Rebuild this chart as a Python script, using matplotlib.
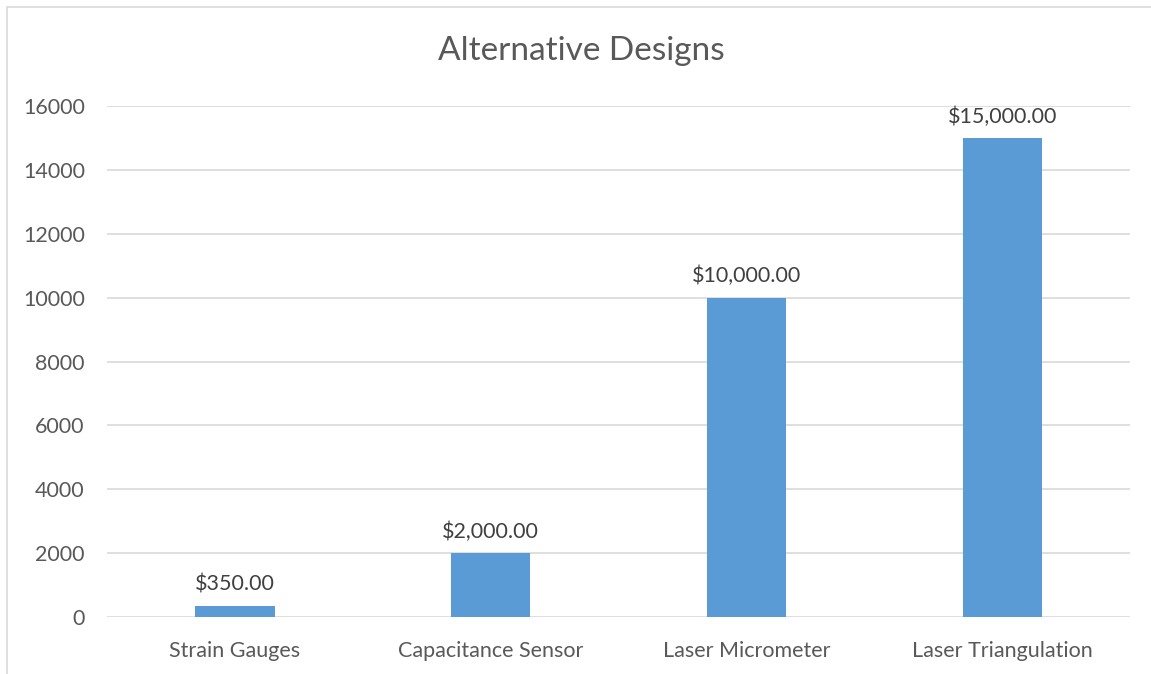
import matplotlib.pyplot as plt
from matplotlib.patches import Rectangle

categories = ['Strain Gauges', 'Capacitance Sensor', 'Laser Micrometer', 'Laser Triangulation']
costs = [350, 2000, 10000, 15000]
yticks = [0, 2000, 4000, 6000, 8000, 10000, 12000, 14000, 16000]

plt.rcParams['font.family'] = ['Lato', 'DejaVu Sans']

fig = plt.figure(figsize=(11.51, 6.74), dpi=100)
ax = fig.add_axes([0.093, 0.0846, 0.889, 0.758])

# chart frame (left and top edges visible)
fig.patches.append(Rectangle((7 / 1151, -0.1), 1.2, 1 - 7 / 674 + 0.1,
                             transform=fig.transFigure, fill=False,
                             edgecolor='#D9D9D9', linewidth=1.2))

x = range(len(categories))
ax.bar(x, costs, width=0.31, color='#5B9BD5', zorder=3)

for xi, v in zip(x, costs):
    ax.annotate(f'${v:,.2f}', (xi, v), xytext=(0, 8), textcoords='offset points',
                ha='center', va='bottom', fontsize=15.5, color='#404040')

ax.set_xlim(-0.5, len(categories) - 0.5)
ax.set_ylim(0, 16000)
ax.set_yticks(yticks)
ax.set_xticks(list(x))
ax.set_xticklabels(categories)
ax.tick_params(axis='both', length=0, labelsize=15.5, colors='#595959')
ax.tick_params(axis='y', pad=16)
ax.tick_params(axis='x', pad=17)
ax.grid(axis='y', color='#D9D9D9', linewidth=1.2, zorder=0)
for s in ax.spines.values():
    s.set_visible(False)

fig.text(0.505, 0.925, 'Alternative Designs', ha='center', va='center',
         fontsize=24, color='#595959')

fig.savefig('out.png', dpi=100)
